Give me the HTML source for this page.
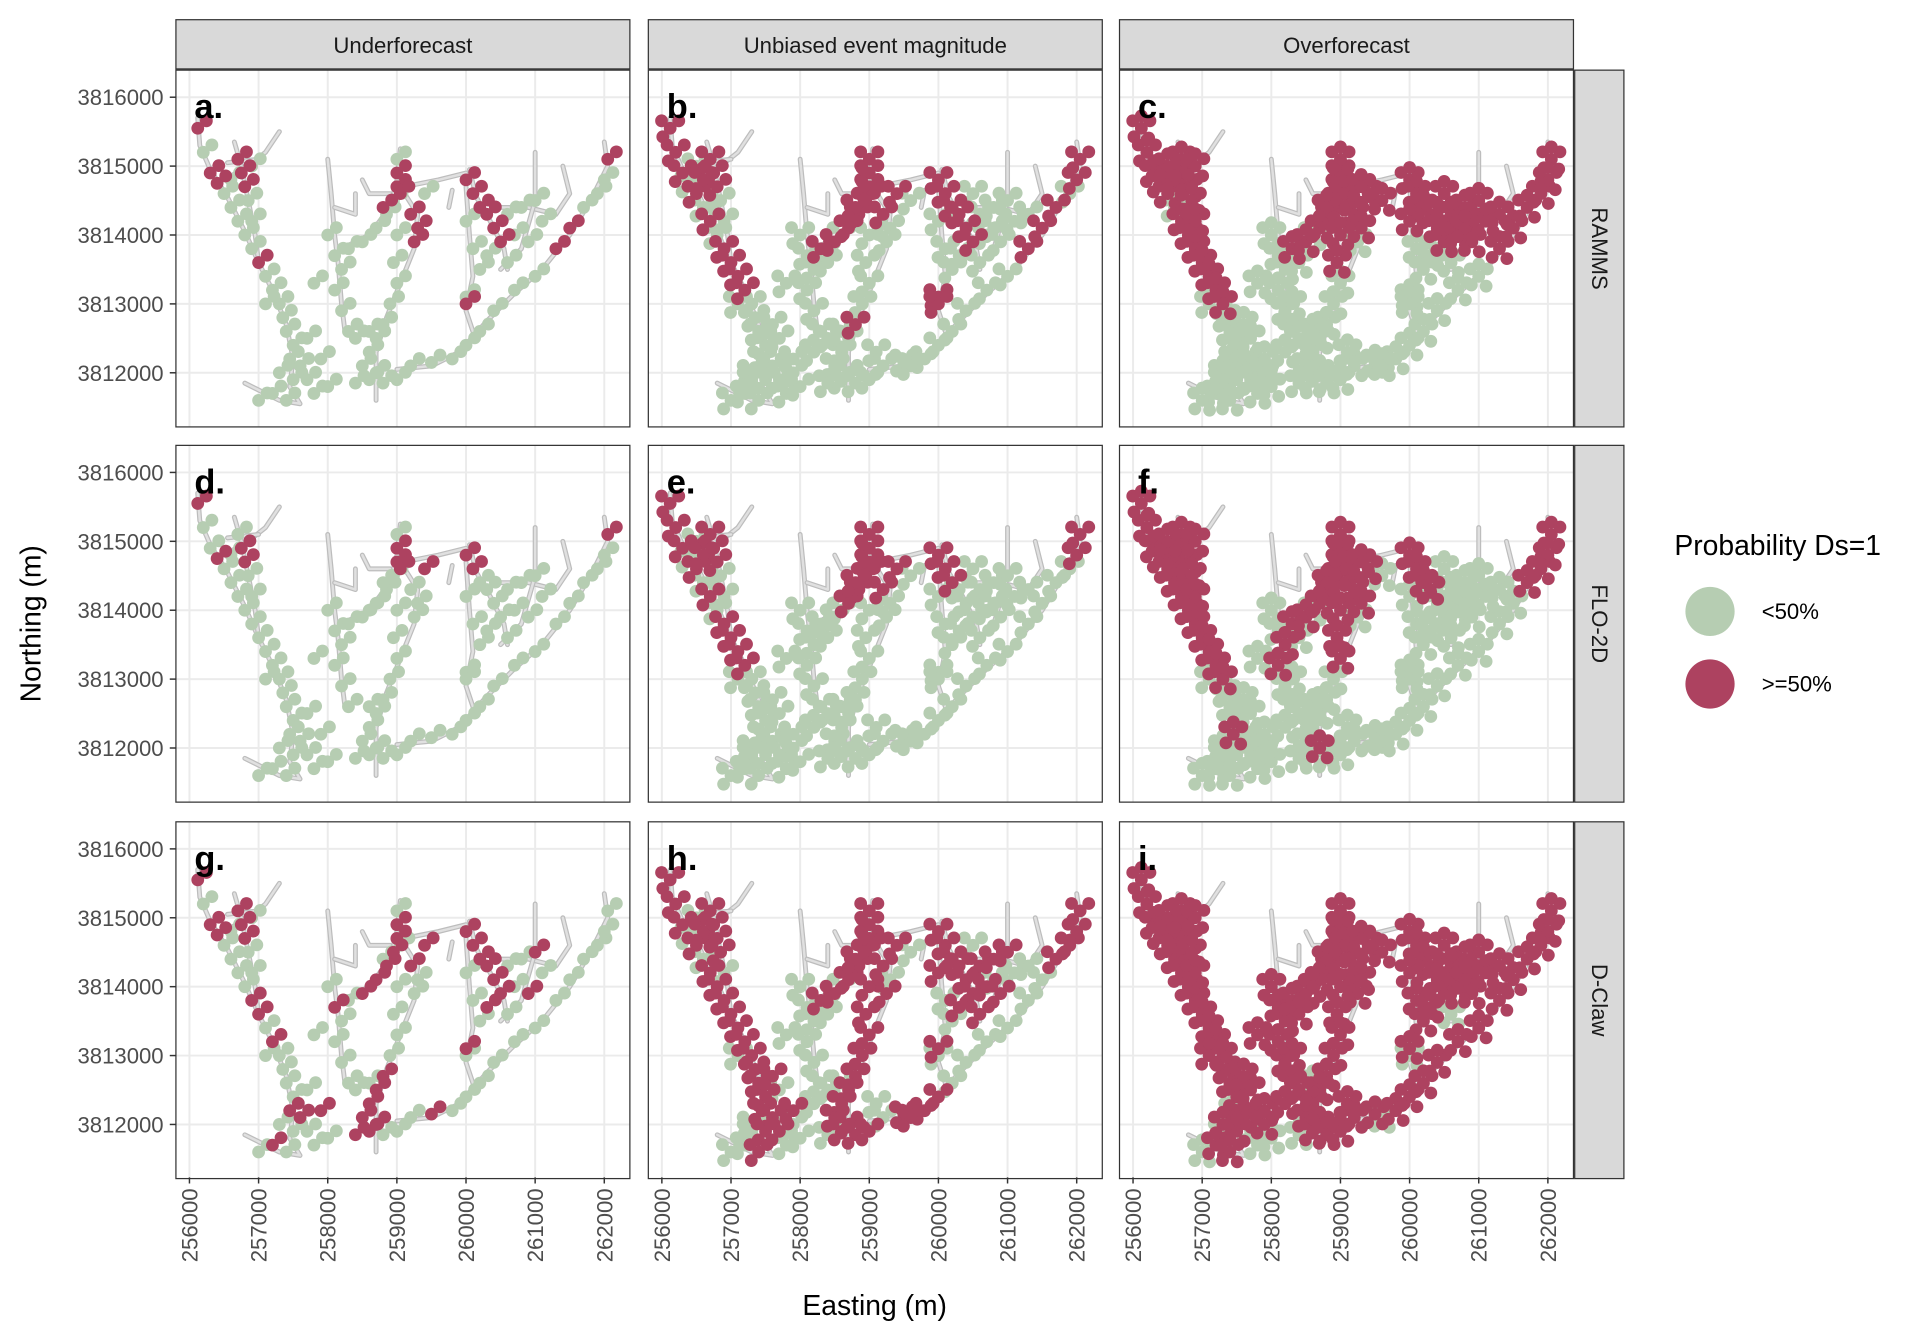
<!DOCTYPE html>
<html><head><meta charset="utf-8"><style>
html,body{margin:0;padding:0;background:#fff;}
svg{display:block;font-family:"Liberation Sans",sans-serif;}
</style></head><body>
<svg id="chart" width="1929" height="1341" viewBox="0 0 1568 1090" xmlns="http://www.w3.org/2000/svg"></svg>
<script>
// ---- data (easting/northing in km offsets: e => 250000+e*1000, n => 3800000+n*1000) ----
const colLabels = ["Underforecast","Unbiased event magnitude","Overforecast"];
const rowLabels = ["RAMMS","FLO-2D","D-Claw"];
const panelLetters = ["a.","b.","c.","d.","e.","f.","g.","h.","i."];
const xTicks = [256000,257000,258000,259000,260000,261000,262000];
const yTicks = [3816000,3815000,3814000,3813000,3812000];
const siteE = [6.12,6.2,6.3,6.4,6.5,6.6,6.7,6.8,6.9,7.0,7.1,7.2,7.3,7.35,7.4,7.5,7.45,7.6,7.3,7.5,7.7,7.2,7.4,7.8,7.0,
 6.7,6.75,6.8,6.6,6.85,6.9,7.1,7.9,
 8.0,8.1,8.2,8.1,8.2,8.3,7.8,8.3,8.5,8.7,8.85,8.95,9.0,9.0,9.05,8.8,9.2,9.3,9.25,9.4,9.0,
 9.0,8.95,9.0,8.9,8.8,8.7,8.6,8.5,8.7,8.6,8.8,9.0,8.4,8.6,
 9.2,9.5,9.8,10.0,10.2,10.4,10.7,11.0,11.3,11.5,11.7,11.9,12.05,12.0,
 10.0,10.1,10.2,10.3,10.4,10.5,10.0,10.1,10.2,10.0,10.6,10.8,11.0,10.7,10.9,11.1,10.3,10.6,10.0,
 7.7,7.9,8.0,8.2,8.4,7.6,7.3,9.1,6.5,6.9,8.6,8.4,9.3,10.5,10.8,11.3,9.6,8.3,9.6];
const siteN = [15.55,15.2,14.9,14.75,14.6,14.4,14.2,14.0,13.8,13.6,13.4,13.2,13.0,12.8,12.6,12.4,12.2,12.1,12.0,11.9,11.9,11.7,11.6,11.7,11.6,
 15.1,14.9,14.7,14.8,14.5,14.2,13.0,12.2,
 14.0,13.7,13.5,13.2,12.9,12.6,13.3,13.8,13.9,14.1,14.3,14.5,14.7,14.9,14.6,14.4,14.3,14.1,13.9,14.6,15.1,
 14.0,13.6,13.3,13.0,12.7,12.5,12.3,12.1,12.0,11.9,11.85,11.9,11.85,12.6,
 12.1,12.15,12.2,12.4,12.6,12.9,13.2,13.4,13.8,14.1,14.4,14.6,15.1,14.8,
 14.8,14.6,14.4,14.3,14.1,13.9,14.2,13.8,13.5,13.1,14.3,14.4,14.5,14.0,13.9,14.2,13.7,13.6,13.0,
 12.5,12.0,11.8,12.3,12.5,12.7,11.9,12.3,15.0,15.0,14.0,13.6,14.7,14.6,14.1,14.3,14.5,13.0,12.1];
// per-panel site class: g = <50%, r = >=50%, . = none
const panelClasses = [
 "rgrrgggggrggggggggggggggg"+"rrrggggg"+"ggggggggggggrrrrrrrgg"+"gggggggggggggg"+"ggggggggrrggrg"+"rrrrrrggggggggggggr"+"g.g.g....g.........",
 "rrrgrgrgrrrrggggggggggggg"+"rrrrgggg"+"gggggggrrrrrrrrrrggrr"+"ggggrggggggggg"+"ggggggggrrrgrr"+"rrrrrrgggrggggggggr"+"ggggggggg.gg.gggg.g",
 "rrrrrgrrrrrrrgggggggggggg"+"rrrrrrgg"+"gggggggrrrrrrrrrrrgrr"+"rrgggggggggggg"+"ggggggggrrrrrr"+"rrrrrrrgggrrrrrrggg"+"ggggggggrrggrrrrrgg",
 "rggrggggggggggggggggggggg"+"grrggggg"+"ggggggggggggrrrggggrg"+"gggggggggggggg"+"ggggggggggggrg"+"rrggggggggggggggggg"+"g.g.......g........",
 "rrrgrgrgrrrrggggggggggggg"+"rrrrgggg"+"gggggggggrrrrrrrrggrr"+"gggggggggggggg"+"ggggggggggggrr"+"rrrgggggggggggggggg"+"ggggggggg.gg.gggg.g",
 "rrrrrrrrrrrrrgggrgggggggg"+"rrrrrrgg"+"ggrrgggrrrrrrrrrrrgrr"+"rrrgggggrggggg"+"ggggggggggrrrr"+"rrrrggggggggggggggg"+"ggggggggrrggrgggggg",
 "rgrrggggrrgrggggrrgggrggg"+"rrrggggr"+"grggggggrrrrrrggrggrg"+"ggggrrrrrrggrg"+"grgggggggggggg"+"rrrrrrgggrggrgrgrgg"+"g.g.g....g.........",
 "rrrgrgrrrrrrrrrrrrgrrgrgg"+"rrrrrggr"+"gggggggrrrrrrrrrrgrrr"+"rrrrrrrrrrrrgg"+"grrrggggggrrrr"+"rrrrrrrggrrrrrrgrrg"+"gggggrggg.gg.gggg.r",
 "rrrrrrrrrrrrrrrrgrrrgrrgg"+"rrrrrrrr"+"rrrrrrrrrrrrrrrrrrrrr"+"rrrrrrrrrrrrgg"+"rrrrrrrrrrrrrr"+"rrrrrrrrrrrrrrrrrgg"+"rrgrrrgrrrrrrrrrrrg"
];
const panelDensity = [2,4,6,2,4,6,2,4,6];
// channel network outline (km offsets)
const channels = [
 [[6.12,15.7],[6.15,15.3],[6.3,14.95],[6.55,14.55],[6.8,14.05],[7.0,13.6],[7.2,13.2],[7.4,12.7],[7.5,12.2],[7.45,11.8],[7.6,11.55],[7.3,11.6],[6.8,11.85]],
 [[7.3,15.5],[7.1,15.2],[6.85,15.0],[6.5,14.8]],
 [[6.65,15.35],[6.75,15.0],[6.85,14.5],[6.95,14.0],[7.0,13.6]],
 [[7.0,15.1],[6.55,15.05]],
 [[8.0,15.1],[8.05,14.6],[8.1,14.0],[8.15,13.6],[8.2,13.0],[8.25,12.6]],
 [[8.1,14.4],[8.4,14.3],[8.4,14.6]],
 [[8.2,13.8],[8.6,14.0],[8.9,14.4],[9.0,14.8],[9.05,15.25]],
 [[9.05,14.7],[9.3,14.3],[9.25,13.8],[9.05,13.3],[8.85,12.8],[8.7,12.3],[8.7,11.6]],
 [[9.1,14.7],[9.6,14.8],[10.0,14.9]],
 [[8.5,14.8],[8.6,14.6],[8.9,14.6]],
 [[9.0,12.05],[9.5,12.1],[9.9,12.3],[10.3,12.75],[10.7,13.15],[11.1,13.5],[11.5,14.0],[11.8,14.5],[12.05,15.0],[12.0,15.35]],
 [[10.05,14.95],[10.15,14.55],[10.35,14.2],[10.55,13.8],[10.6,13.5]],
 [[10.0,14.7],[10.05,14.0],[10.1,13.4],[10.0,12.9],[10.1,12.6]],
 [[10.5,14.4],[10.9,14.4],[11.3,14.3],[11.5,14.6],[11.4,15.0]],
 [[11.0,15.2],[11.0,14.5],[10.8,13.8],[10.5,13.5]],
 [[9.8,14.65],[9.75,14.4]]
];
</script>
<script>
const svg = document.getElementById('chart');
const NS = 'http://www.w3.org/2000/svg';
function mk(tag, attrs, parent){const el=document.createElementNS(NS,tag);for(const k in attrs)el.setAttribute(k,attrs[k]);(parent||svg).appendChild(el);return el;}
const colX = [143,527,910], colW = 369;
const rowY = [57,362,668], rowH = 290;
function xS(c, e){return colX[c] + 11 + (e - 6) * 56.2;}
function yS(r, n){return rowY[r] + 22 + (16 - n) * 56;}
const GREEN='#b6cdb2', RED='#ad4260';
const offsets=[[0,0],[7,-6],[-6,7],[-7,-6],[6,8],[0,-10]];

for(let c=0;c<3;c++){
  const g=mk('g',{});
  
  
  mk('rect',{x:colX[c],y:16,width:colW,height:40,fill:'#d9d9d9',stroke:'#333','stroke-width':1},g);
  const t=mk('text',{x:colX[c]+colW/2,y:43,'text-anchor':'middle','font-size':18,fill:'#1a1a1a'},g);
  t.textContent=colLabels[c];
}
for(let r=0;r<3;r++){
  const g=mk('g',{});
  
  
  mk('rect',{x:1280,y:rowY[r],width:40,height:rowH,fill:'#d9d9d9',stroke:'#333','stroke-width':1},g);
  const cx=1294, cy=rowY[r]+rowH/2;
  const t=mk('text',{x:cx,y:cy,'text-anchor':'middle','font-size':18,fill:'#1a1a1a',transform:`rotate(90 ${cx} ${cy})`},g);
  t.textContent=rowLabels[r];
}
for(let r=0;r<3;r++)for(let c=0;c<3;c++){
  const p=r*3+c;
  const g=mk('g',{});
  
  
  mk('rect',{x:colX[c],y:rowY[r],width:colW,height:rowH,fill:'#fff'},g);
  const clipId='clip'+p;
  const cp=mk('clipPath',{id:clipId},g);
  mk('rect',{x:colX[c],y:rowY[r],width:colW,height:rowH},cp);
  const inner=mk('g',{'clip-path':`url(#${clipId})`},g);
  xTicks.forEach(v=>{const x=xS(c,(v-250000)/1000);mk('line',{x1:x,x2:x,y1:rowY[r],y2:rowY[r]+rowH,stroke:'#ebebeb','stroke-width':1.6},inner);});
  yTicks.forEach(v=>{const y=yS(r,(v-3800000)/1000);mk('line',{x1:colX[c],x2:colX[c]+colW,y1:y,y2:y,stroke:'#ebebeb','stroke-width':1.6},inner);});
  const map=mk('g',{},inner);
  
  
  channels.forEach(ch=>{
    const pts=ch.map(q=>xS(c,q[0]).toFixed(1)+','+yS(r,q[1]).toFixed(1)).join(' ');
    mk('polyline',{points:pts,fill:'none',stroke:'#bdbdbd','stroke-width':4,'stroke-linejoin':'round','stroke-linecap':'round'},map);
    mk('polyline',{points:pts,fill:'none',stroke:'#e0e0e0','stroke-width':2,'stroke-linejoin':'round','stroke-linecap':'round'},map);
  });
  const cls=panelClasses[p];
  ['g','r'].forEach(k=>{
    for(let i=0;i<siteE.length;i++){
      if(cls[i]!==k)continue;
      for(let o=0;o<panelDensity[p];o++){
        const pt=mk('circle',{cx:xS(c,siteE[i])+offsets[o][0],cy:yS(r,siteN[i])+offsets[o][1],r:5.2,fill:k==='g'?GREEN:RED},inner);
        
        
      }
    }
  });
  mk('rect',{x:colX[c],y:rowY[r],width:colW,height:rowH,fill:'none',stroke:'#333','stroke-width':1},g);
  const lt=mk('text',{x:colX[c]+15,y:rowY[r]+39,'font-size':28,'font-weight':'bold',fill:'#000'},g);
  lt.textContent=panelLetters[p];
}
for(let r=0;r<3;r++){
  const g=mk('g',{});
  
  
  yTicks.forEach(v=>{
    const y=yS(r,(v-3800000)/1000);
    mk('line',{x1:138,x2:143,y1:y,y2:y,stroke:'#333','stroke-width':1.2},g);
    const t=mk('text',{x:133,y:y+6.5,'text-anchor':'end','font-size':18,fill:'#4d4d4d'},g);
    t.textContent=v;
  });
}
for(let c=0;c<3;c++){
  const g=mk('g',{});
  
  
  xTicks.forEach(v=>{
    const x=xS(c,(v-250000)/1000);
    mk('line',{x1:x,x2:x,y1:957,y2:962,stroke:'#333','stroke-width':1.2},g);
    const t=mk('text',{x:x,y:966,'text-anchor':'end','font-size':18,fill:'#4d4d4d',transform:`rotate(-90 ${x} 966) translate(0 6.5)`},g);
    t.textContent=v;
  });
}
const xt=mk('text',{x:711,y:1069,'text-anchor':'middle','font-size':23,fill:'#000'});
xt.textContent='Easting (m)';


const yt=mk('text',{x:33,y:507,'text-anchor':'middle','font-size':23,fill:'#000',transform:'rotate(-90 33 507)'});
yt.textContent='Northing (m)';


const lg=mk('g',{});


const ltl=mk('text',{x:1361,y:451,'font-size':23,fill:'#000'},lg);
ltl.textContent='Probability Ds=1';
[[GREEN,'<50%',497],[RED,'>=50%',556]].forEach(([col,lab,y])=>{
  const e=mk('g',{},lg);
  
  
  mk('circle',{cx:1390,cy:y,r:20,fill:col},e);
  const t=mk('text',{x:1432,y:y+6,'font-size':18,fill:'#000'},e);
  t.textContent=lab;
});
</script>
</body></html>
